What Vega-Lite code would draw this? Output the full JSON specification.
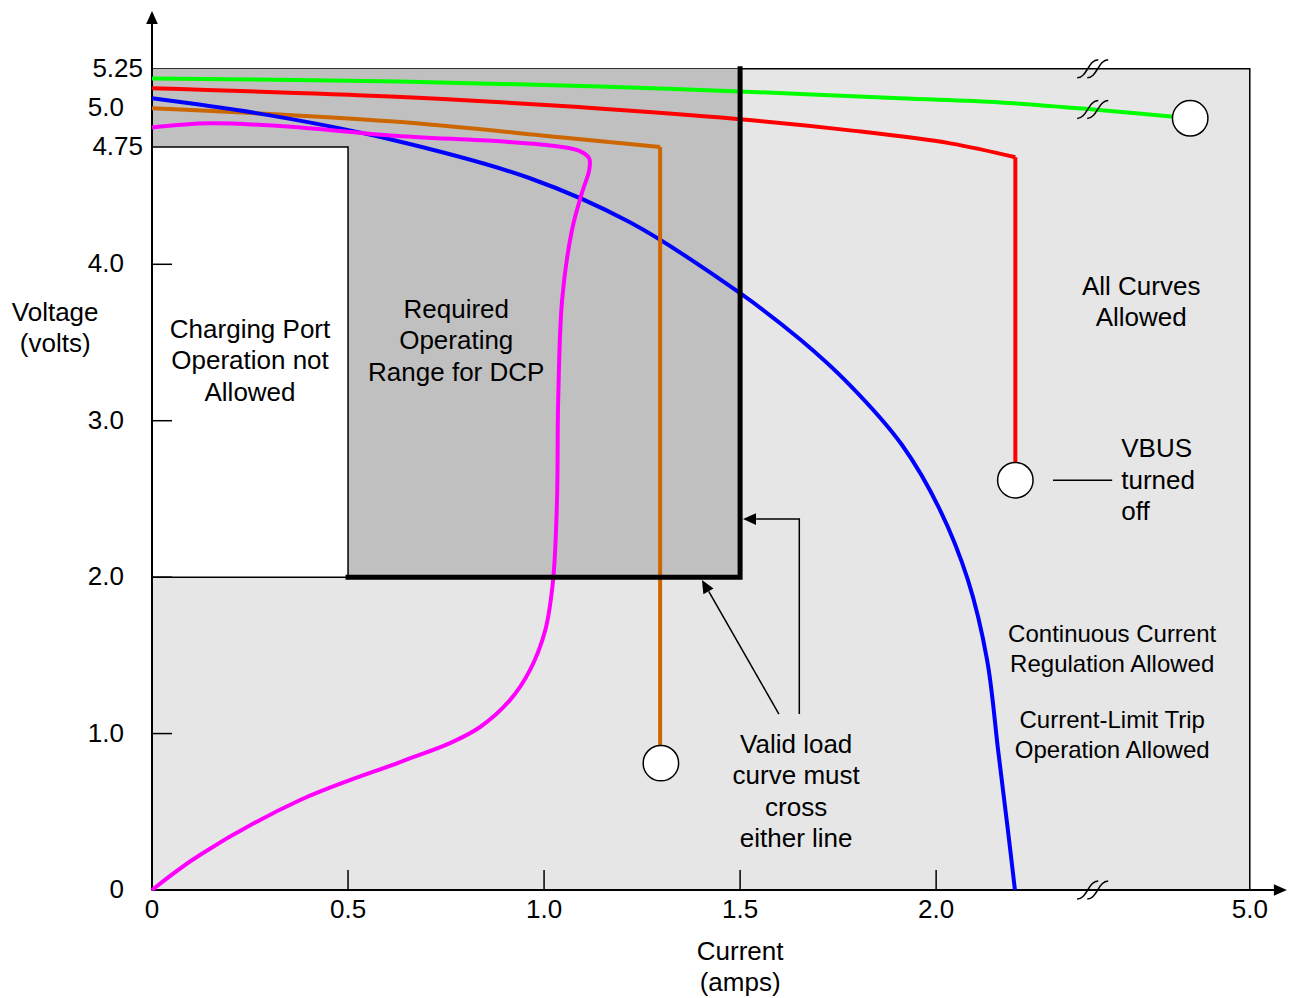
{
  "$schema": "https://vega.github.io/schema/vega-lite/v6.json",
  "autosize": {"type": "none"},
  "padding": {"left": 152, "top": 14, "right": 2, "bottom": 108},
  "width": 1137,
  "height": 876,
  "background": "white",
  "config": {
    "view": {"stroke": null},
    "axis": {"disable": true},
    "text": {"font": "Liberation Sans", "color": "black"}
  },
  "datasets": {
    "curves": [
      {"s": "green", "i": 0, "x": 0, "y": 5.188},
      {"s": "green", "i": 1, "x": 0.633, "y": 5.169},
      {"s": "green", "i": 2, "x": 1.143, "y": 5.137},
      {"s": "green", "i": 3, "x": 1.5, "y": 5.105},
      {"s": "green", "i": 4, "x": 1.908, "y": 5.061},
      {"s": "green", "i": 5, "x": 2.163, "y": 5.035},
      {"s": "green", "i": 6, "x": 2.401, "y": 4.99},
      {"s": "green", "i": 7, "x": 2.648, "y": 4.933},
      {"s": "red", "i": 0, "x": 0, "y": 5.125},
      {"s": "red", "i": 1, "x": 0.607, "y": 5.073},
      {"s": "red", "i": 2, "x": 1.015, "y": 5.016},
      {"s": "red", "i": 3, "x": 1.5, "y": 4.927},
      {"s": "red", "i": 4, "x": 1.781, "y": 4.856},
      {"s": "red", "i": 5, "x": 2.036, "y": 4.773},
      {"s": "red", "i": 6, "x": 2.202, "y": 4.684},
      {"s": "orange", "i": 0, "x": 0, "y": 4.997},
      {"s": "orange", "i": 1, "x": 0.607, "y": 4.914},
      {"s": "orange", "i": 2, "x": 1.041, "y": 4.812},
      {"s": "orange", "i": 3, "x": 1.296, "y": 4.75},
      {"s": "blue", "i": 0, "x": 0, "y": 5.061},
      {"s": "blue", "i": 1, "x": 0.301, "y": 4.952},
      {"s": "blue", "i": 2, "x": 0.607, "y": 4.799},
      {"s": "blue", "i": 3, "x": 0.964, "y": 4.55},
      {"s": "blue", "i": 4, "x": 1.219, "y": 4.268},
      {"s": "blue", "i": 5, "x": 1.5, "y": 3.815},
      {"s": "blue", "i": 6, "x": 1.655, "y": 3.516},
      {"s": "blue", "i": 7, "x": 1.78, "y": 3.228},
      {"s": "blue", "i": 8, "x": 1.913, "y": 2.845},
      {"s": "blue", "i": 9, "x": 2.01, "y": 2.429},
      {"s": "blue", "i": 10, "x": 2.081, "y": 1.982},
      {"s": "blue", "i": 11, "x": 2.13, "y": 1.47},
      {"s": "blue", "i": 12, "x": 2.158, "y": 0.895},
      {"s": "blue", "i": 13, "x": 2.183, "y": 0.384},
      {"s": "blue", "i": 14, "x": 2.201, "y": 0},
      {"s": "magenta", "i": 0, "x": 0, "y": 0},
      {"s": "magenta", "i": 1, "x": 0.122, "y": 0.224},
      {"s": "magenta", "i": 2, "x": 0.378, "y": 0.575},
      {"s": "magenta", "i": 3, "x": 0.633, "y": 0.818},
      {"s": "magenta", "i": 4, "x": 0.76, "y": 0.939},
      {"s": "magenta", "i": 5, "x": 0.837, "y": 1.042},
      {"s": "magenta", "i": 6, "x": 0.913, "y": 1.214},
      {"s": "magenta", "i": 7, "x": 0.964, "y": 1.406},
      {"s": "magenta", "i": 8, "x": 1.003, "y": 1.661},
      {"s": "magenta", "i": 9, "x": 1.023, "y": 1.981},
      {"s": "magenta", "i": 10, "x": 1.033, "y": 2.492},
      {"s": "magenta", "i": 11, "x": 1.036, "y": 3.131},
      {"s": "magenta", "i": 12, "x": 1.046, "y": 3.77},
      {"s": "magenta", "i": 13, "x": 1.071, "y": 4.217},
      {"s": "magenta", "i": 14, "x": 1.097, "y": 4.46},
      {"s": "magenta", "i": 15, "x": 1.115, "y": 4.601},
      {"s": "magenta", "i": 16, "x": 1.115, "y": 4.677},
      {"s": "magenta", "i": 17, "x": 1.087, "y": 4.728},
      {"s": "magenta", "i": 18, "x": 1.015, "y": 4.76},
      {"s": "magenta", "i": 19, "x": 0.888, "y": 4.786},
      {"s": "magenta", "i": 20, "x": 0.607, "y": 4.824},
      {"s": "magenta", "i": 21, "x": 0.378, "y": 4.875},
      {"s": "magenta", "i": 22, "x": 0.148, "y": 4.901},
      {"s": "magenta", "i": 23, "x": 0, "y": 4.875}
    ],
    "drops": [
      {"s": "red", "i": 0, "x": 2.202, "y": 4.684},
      {"s": "red", "i": 1, "x": 2.202, "y": 2.62},
      {"s": "orange", "i": 0, "x": 1.296, "y": 4.75},
      {"s": "orange", "i": 1, "x": 1.296, "y": 0.81}
    ]
  },
  "layer": [
    {
      "data": {"values": [{"name": "all", "x": 0, "x2": 2.8, "y": 0, "y2": 5.25}]},
      "mark": {"type": "rect", "fill": "#e6e6e6", "stroke": "black", "strokeWidth": 1.5},
      "encoding": {
        "x": {"field": "x", "type": "quantitative", "scale": {"domain": [0, 2.9], "nice": false, "zero": false}},
        "x2": {"field": "x2"},
        "y": {"field": "y", "type": "quantitative", "scale": {"domain": [0, 5.6], "nice": false, "zero": false}},
        "y2": {"field": "y2"}
      }
    },
    {
      "data": {"values": [{"name": "dcp", "x": 0, "x2": 1.5, "y": 2, "y2": 5.25}]},
      "mark": {"type": "rect", "fill": "#c0c0c0"},
      "encoding": {
        "x": {"field": "x", "type": "quantitative"},
        "x2": {"field": "x2"},
        "y": {"field": "y", "type": "quantitative"},
        "y2": {"field": "y2"}
      }
    },
    {
      "data": {"values": [{"name": "not allowed", "x": 0, "x2": 0.5, "y": 2, "y2": 4.75}]},
      "mark": {"type": "rect", "fill": "white", "stroke": "black", "strokeWidth": 1.5},
      "encoding": {
        "x": {"field": "x", "type": "quantitative"},
        "x2": {"field": "x2"},
        "y": {"field": "y", "type": "quantitative"},
        "y2": {"field": "y2"}
      }
    },
    {
      "data": {"values": [{"v": 0.5}, {"v": 1.0}, {"v": 1.5}, {"v": 2.0}]},
      "mark": {"type": "rule", "stroke": "black", "strokeWidth": 1.5},
      "encoding": {
        "x": {"field": "v", "type": "quantitative"},
        "y": {"datum": 0, "type": "quantitative"},
        "y2": {"datum": 0.128}
      }
    },
    {
      "data": {"values": [{"v": 1.0}, {"v": 2.0}, {"v": 3.0}, {"v": 4.0}, {"v": 5.0}]},
      "mark": {"type": "rule", "stroke": "black", "strokeWidth": 1.5},
      "encoding": {
        "y": {"field": "v", "type": "quantitative"},
        "x": {"datum": 0, "type": "quantitative"},
        "x2": {"datum": 0.051}
      }
    },
    {
      "data": {"values": [{"axis": "y"}]},
      "mark": {"type": "rule", "stroke": "black", "strokeWidth": 2},
      "encoding": {
        "x": {"datum": 0, "type": "quantitative"},
        "y": {"datum": 0, "type": "quantitative"},
        "y2": {"datum": 5.55}
      }
    },
    {
      "data": {"values": [{"axis": "x"}]},
      "mark": {"type": "rule", "stroke": "black", "strokeWidth": 2},
      "encoding": {
        "y": {"datum": 0, "type": "quantitative"},
        "x": {"datum": 0, "type": "quantitative"},
        "x2": {"datum": 2.87}
      }
    },
    {
      "data": {"name": "curves"},
      "mark": {"type": "line", "strokeWidth": 4, "interpolate": "catmull-rom"},
      "encoding": {
        "x": {"field": "x", "type": "quantitative"},
        "y": {"field": "y", "type": "quantitative"},
        "order": {"field": "i", "type": "quantitative"},
        "color": {"field": "s", "type": "nominal", "legend": null,
          "scale": {"domain": ["green", "red", "orange", "blue", "magenta"], "range": ["#00ff00", "#ff0000", "#cc6600", "#0000ff", "#ff00ff"]}}
      }
    },
    {
      "data": {"name": "drops"},
      "mark": {"type": "line", "strokeWidth": 4},
      "encoding": {
        "x": {"field": "x", "type": "quantitative"},
        "y": {"field": "y", "type": "quantitative"},
        "order": {"field": "i", "type": "quantitative"},
        "color": {"field": "s", "type": "nominal", "legend": null}
      }
    },
    {
      "data": {"values": [{"i": 0, "x": 0.5, "y": 2}, {"i": 1, "x": 1.5, "y": 2}, {"i": 2, "x": 1.5, "y": 5.25}]},
      "mark": {"type": "line", "stroke": "black", "strokeWidth": 5, "strokeJoin": "miter", "strokeCap": "square"},
      "encoding": {
        "x": {"field": "x", "type": "quantitative"},
        "y": {"field": "y", "type": "quantitative"},
        "order": {"field": "i", "type": "quantitative"}
      }
    },
    {
      "data": {"values": [
        {"seg": "a", "i": 0, "x": 1.651, "y": 1.125},
        {"seg": "a", "i": 1, "x": 1.651, "y": 2.371},
        {"seg": "a", "i": 2, "x": 1.541, "y": 2.371},
        {"seg": "b", "i": 0, "x": 1.599, "y": 1.125},
        {"seg": "b", "i": 1, "x": 1.42, "y": 1.909},
        {"seg": "c", "i": 0, "x": 2.298, "y": 2.62},
        {"seg": "c", "i": 1, "x": 2.449, "y": 2.62}
      ]},
      "mark": {"type": "line", "stroke": "black", "strokeWidth": 1.5},
      "encoding": {
        "x": {"field": "x", "type": "quantitative"},
        "y": {"field": "y", "type": "quantitative"},
        "detail": {"field": "seg", "type": "nominal"},
        "order": {"field": "i", "type": "quantitative"}
      }
    },
    {
      "data": {"values": [{"x": 0, "y": 5.578}]},
      "mark": {"type": "point", "shape": "M0,-1L0.9,1L-0.9,1Z", "size": 169, "filled": true, "fill": "black", "opacity": 1, "angle": 0},
      "encoding": {"x": {"field": "x", "type": "quantitative"}, "y": {"field": "y", "type": "quantitative"}}
    },
    {
      "data": {"values": [{"x": 2.878, "y": 0}]},
      "mark": {"type": "point", "shape": "M0,-1L0.9,1L-0.9,1Z", "size": 169, "filled": true, "fill": "black", "opacity": 1, "angle": 90},
      "encoding": {"x": {"field": "x", "type": "quantitative"}, "y": {"field": "y", "type": "quantitative"}}
    },
    {
      "data": {"values": [{"x": 1.524, "y": 2.371}]},
      "mark": {"type": "point", "shape": "M0,-1L0.9,1L-0.9,1Z", "size": 169, "filled": true, "fill": "black", "opacity": 1, "angle": 270},
      "encoding": {"x": {"field": "x", "type": "quantitative"}, "y": {"field": "y", "type": "quantitative"}}
    },
    {
      "data": {"values": [{"x": 1.411, "y": 1.945}]},
      "mark": {"type": "point", "shape": "M0,-1L0.9,1L-0.9,1Z", "size": 169, "filled": true, "fill": "black", "opacity": 1, "angle": 330},
      "encoding": {"x": {"field": "x", "type": "quantitative"}, "y": {"field": "y", "type": "quantitative"}}
    },
    {
      "data": {"values": [{"s": "green", "x": 2.648, "y": 4.933}, {"s": "red", "x": 2.202, "y": 2.62}, {"s": "orange", "x": 1.298, "y": 0.811}]},
      "mark": {"type": "point", "shape": "circle", "size": 1257, "filled": true, "fill": "white", "stroke": "black", "strokeWidth": 1.5, "opacity": 1},
      "encoding": {"x": {"field": "x", "type": "quantitative"}, "y": {"field": "y", "type": "quantitative"}}
    },
    {
      "data": {"values": [{"x": 2.398, "y": 5.25}, {"x": 2.398, "y": 4.99}, {"x": 2.398, "y": 0}]},
      "mark": {"type": "point", "shape": "M-0.94,0.56C-0.31,0.56,-0.25,-0.56,0.38,-0.56M-0.31,0.56C0.31,0.56,0.38,-0.56,1,-0.56", "size": 1024, "filled": false, "stroke": "black", "strokeWidth": 1.5, "opacity": 1},
      "encoding": {"x": {"field": "x", "type": "quantitative"}, "y": {"field": "y", "type": "quantitative"}}
    },
    {
      "data": {"values": [{"v": 0, "t": "0"}, {"v": 0.5, "t": "0.5"}, {"v": 1.0, "t": "1.0"}, {"v": 1.5, "t": "1.5"}, {"v": 2.0, "t": "2.0"}, {"v": 2.8, "t": "5.0"}]},
      "mark": {"type": "text", "fontSize": 26, "align": "center", "baseline": "middle", "dy": 20},
      "encoding": {
        "x": {"field": "v", "type": "quantitative"},
        "y": {"datum": 0, "type": "quantitative"},
        "text": {"field": "t"}
      }
    },
    {
      "data": {"values": [{"v": 0, "t": "0"}, {"v": 1, "t": "1.0"}, {"v": 2, "t": "2.0"}, {"v": 3, "t": "3.0"}, {"v": 4, "t": "4.0"}, {"v": 5, "t": "5.0"}]},
      "mark": {"type": "text", "fontSize": 26, "align": "right", "baseline": "middle", "dx": -28},
      "encoding": {
        "y": {"field": "v", "type": "quantitative"},
        "x": {"datum": 0, "type": "quantitative"},
        "text": {"field": "t"}
      }
    },
    {
      "data": {"values": [{"v": 4.75, "t": "4.75"}, {"v": 5.25, "t": "5.25"}]},
      "mark": {"type": "text", "fontSize": 26, "align": "right", "baseline": "middle", "dx": -9},
      "encoding": {
        "y": {"field": "v", "type": "quantitative"},
        "x": {"datum": 0, "type": "quantitative"},
        "text": {"field": "t"}
      }
    },
    {
      "data": {"values": [
        {"t": "Voltage\n(volts)", "x": -0.247, "y": 3.689},
        {"t": "Current\n(amps)", "x": 1.5, "y": -0.396},
        {"t": "Charging Port\nOperation not\nAllowed", "x": 0.25, "y": 3.58},
        {"t": "Required\nOperating\nRange for DCP", "x": 0.776, "y": 3.708},
        {"t": "All Curves\nAllowed", "x": 2.523, "y": 3.855},
        {"t": "Valid load\ncurve must\ncross\neither line", "x": 1.643, "y": 0.927}
      ]},
      "mark": {"type": "text", "fontSize": 26, "align": "center", "baseline": "middle", "lineBreak": "\n", "lineHeight": 31.5},
      "encoding": {
        "x": {"field": "x", "type": "quantitative"},
        "y": {"field": "y", "type": "quantitative"},
        "text": {"field": "t"}
      }
    },
    {
      "data": {"values": [{"t": "VBUS\nturned\noff", "x": 2.472, "y": 2.819}]},
      "mark": {"type": "text", "fontSize": 26, "align": "left", "baseline": "middle", "lineBreak": "\n", "lineHeight": 31.5},
      "encoding": {
        "x": {"field": "x", "type": "quantitative"},
        "y": {"field": "y", "type": "quantitative"},
        "text": {"field": "t"}
      }
    },
    {
      "data": {"values": [
        {"t": "Continuous Current\nRegulation Allowed", "x": 2.449, "y": 1.63},
        {"t": "Current-Limit Trip\nOperation Allowed", "x": 2.449, "y": 1.08}
      ]},
      "mark": {"type": "text", "fontSize": 24, "align": "center", "baseline": "middle", "lineBreak": "\n", "lineHeight": 30},
      "encoding": {
        "x": {"field": "x", "type": "quantitative"},
        "y": {"field": "y", "type": "quantitative"},
        "text": {"field": "t"}
      }
    }
  ]
}
